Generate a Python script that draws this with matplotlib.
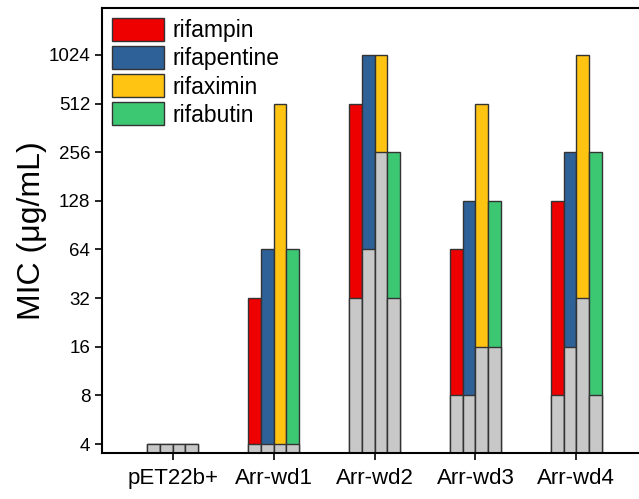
import numpy as np
import matplotlib.pyplot as plt

plt.rcParams['font.family'] = ['Liberation Sans', 'DejaVu Sans']

# strains and antibiotics
strains = ['pET22b+', 'Arr-wd1', 'Arr-wd2', 'Arr-wd3', 'Arr-wd4']
drugs = ['rifampin', 'rifapentine', 'rifaximin', 'rifabutin']
colors = ['#EE0000', '#2F6199', '#FFC312', '#3CC873']

# MIC with Arr enzyme (coloured) and baseline (grey), ug/mL
mic = {
    'rifampin':    [4, 32, 512, 64, 128],
    'rifapentine': [4, 64, 1024, 128, 256],
    'rifaximin':   [4, 512, 1024, 512, 1024],
    'rifabutin':   [4, 64, 256, 128, 256],
}
base = {
    'rifampin':    [4, 4, 32, 8, 8],
    'rifapentine': [4, 4, 64, 8, 16],
    'rifaximin':   [4, 4, 256, 16, 32],
    'rifabutin':   [4, 4, 32, 16, 8],
}

ymin, ymax = 3.52, 2000
fig = plt.figure(figsize=(6.39, 4.99), dpi=100)
ax = fig.add_axes([102 / 639, 46 / 499, 545 / 639, 445 / 499])

x = np.arange(len(strains))
w = 0.125
for i, d in enumerate(drugs):
    pos = x + (i - 1.5) * w
    ax.bar(pos, np.array(mic[d]) - ymin, w, bottom=ymin, color=colors[i],
           edgecolor='#333333', linewidth=1, label=d)
    ax.bar(pos, np.array(base[d]) - ymin, w, bottom=ymin, color='#C8C8C8',
           edgecolor='#333333', linewidth=1)

ax.set_yscale('log', base=2)
ax.set_ylim(ymin, ymax)
ax.set_xlim(-0.7, 4.7)
yt = [4, 8, 16, 32, 64, 128, 256, 512, 1024]
ax.set_yticks(yt)
ax.set_yticklabels([str(v) for v in yt])
ax.minorticks_off()
ax.set_xticks(x)
ax.set_xticklabels(strains)
ax.tick_params(axis='both', length=5, width=1.2, direction='out')
ax.tick_params(axis='y', labelsize=13.5)
ax.tick_params(axis='x', labelsize=16, pad=6)
for s in ax.spines.values():
    s.set_linewidth(1.5)
ax.set_ylabel('MIC (μg/mL)', fontsize=23, labelpad=1)

ax.legend(loc='upper left', bbox_to_anchor=(0.0, 1.0), frameon=False, fontsize=16.5,
          handlelength=2.27, handleheight=1.15, labelspacing=0.17, handletextpad=0.35,
          borderaxespad=0.35, borderpad=0.1)

fig.savefig('out.png', dpi=100)
